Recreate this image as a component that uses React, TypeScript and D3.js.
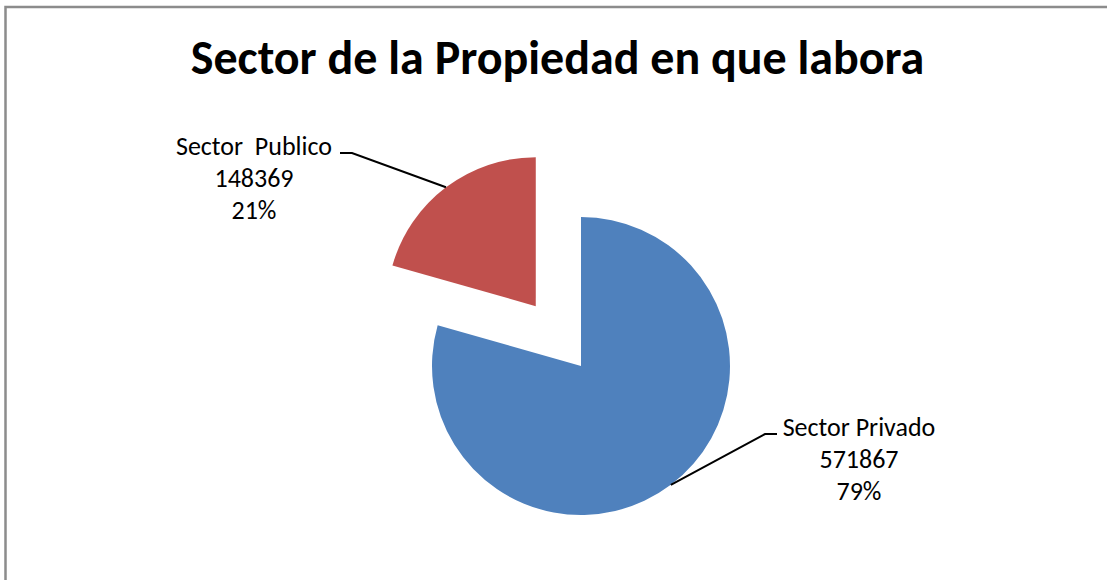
import React from "react";
import * as d3 from "d3";

const categories = ["Sector Privado", "Sector  Publico"];
const values = [571867, 148369];
const colors = ["#4F81BD", "#C0504D"];
const explode = [0, 75];
const title = "Sector de la Propiedad en que labora";

const W = 1107;
const H = 580;
const cx = 581;
const cy = 366;
const R = 149;
const FONT = "Carlito, Calibri, Lato, 'Open Sans', sans-serif";

// label layout: text center x, first baseline y, leader elbow x, leader end x
const labelLayout = [
  { x: 859, y: 436, elbow: 765, end: 777 },
  { x: 254, y: 155, elbow: 352, end: 340 },
];

export default function App() {
  const total = d3.sum(values);
  const pie = d3.pie<number>().sort(null).value((d) => d);
  const arcs = pie(values);
  const arc = d3.arc<d3.PieArcDatum<number>>().innerRadius(0).outerRadius(R);
  const fmtPct = (v: number) => `${Math.round((v / total) * 100)}%`;

  return (
    <svg
      width={W}
      height={H}
      style={{ position: "absolute", left: 0, top: 0, background: "#fff" }}
    >
      <rect x={0} y={0} width={W} height={H} fill="#fff" />
      <rect
        x={5.5}
        y={7}
        width={W + 20}
        height={H + 20}
        fill="none"
        stroke="#8c8c8c"
        strokeWidth={2.5}
      />
      <text
        x={557.5}
        y={74}
        textAnchor="middle"
        fontFamily={FONT}
        fontWeight="bold"
        fontSize={48}
        fill="#000"
      >
        {title}
      </text>
      {arcs.map((a, i) => {
        const mid = (a.startAngle + a.endAngle) / 2;
        const ox = Math.sin(mid) * explode[i];
        const oy = -Math.cos(mid) * explode[i];
        const px = cx + ox + Math.sin(mid) * R;
        const py = cy + oy - Math.cos(mid) * R;
        const L = labelLayout[i];
        return (
          <g key={categories[i]}>
            <path
              d={arc(a) || ""}
              transform={`translate(${cx + ox},${cy + oy})`}
              fill={colors[i]}
            />
            <polyline
              points={`${px},${py} ${L.elbow},${L.y - 2} ${L.end},${L.y - 2}`}
              fill="none"
              stroke="#000"
              strokeWidth={2}
            />
            <text
              textAnchor="middle"
              fontFamily={FONT}
              fontSize={26}
              fill="#000"
              style={{ whiteSpace: "pre" }}
            >
              <tspan x={L.x} y={L.y}>{categories[i]}</tspan>
              <tspan x={L.x} y={L.y + 32}>{String(values[i])}</tspan>
              <tspan x={L.x} y={L.y + 64}>{fmtPct(values[i])}</tspan>
            </text>
          </g>
        );
      })}
    </svg>
  );
}
